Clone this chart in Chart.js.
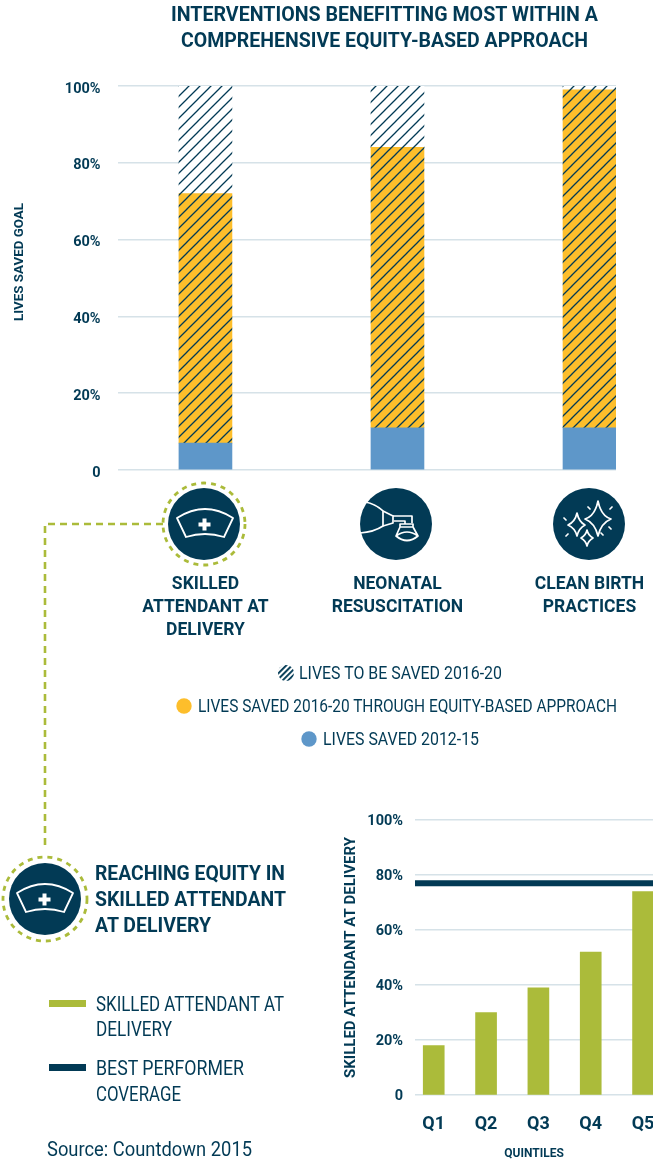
<!DOCTYPE html>
<html><head><meta charset="utf-8">
<script src="https://cdn.jsdelivr.net/npm/chart.js@4/dist/chart.umd.min.js"></script>
<style>
html,body{margin:0;padding:0;background:#fff;width:653px;height:1161px;overflow:hidden}
#stage{position:relative;width:653px;height:1161px;overflow:hidden}
canvas{position:absolute;display:block}
svg{position:absolute;left:0;top:0}
.t{position:absolute;white-space:nowrap;transform-origin:0 50%;color:#023a55;line-height:1;font-family:Roboto,sans-serif}
</style></head><body>
<div id="stage">
<canvas id="c1" width="653" height="640" style="left:0;top:0;width:653px;height:640px"></canvas>
<canvas id="c2" width="323" height="361" style="left:330px;top:800px;width:323px;height:361px"></canvas>
<svg width="653" height="1161" viewBox="0 0 653 1161">
<defs>
<pattern id="hl" width="4" height="4" patternUnits="userSpaceOnUse" patternTransform="rotate(45)"><rect width="4" height="4" fill="#fff"/><rect width="1.9" height="4" fill="#023a55"/></pattern>
<g id="cap" fill="none" stroke="#fff" stroke-width="1.8" stroke-linejoin="round">
<path d="M-27-6Q1-24 29-6L20 13Q1 7-18 13Z"/>
<path d="M-1.5-5.5h4v4h4v4h-4v4h-4v-4h-4v-4h4z" fill="#fff" stroke="none"/>
</g>
</defs>
<path d="M163 524H45V850" fill="none" stroke="#abbb3a" stroke-width="2.6" stroke-dasharray="7 5"/>
<circle cx="204" cy="524" r="36" fill="#023a55"/>
<circle cx="204" cy="524" r="41" fill="none" stroke="#abbb3a" stroke-width="2.8" stroke-dasharray="5 5"/>
<use href="#cap" x="204" y="524"/>
<circle cx="396" cy="524" r="36" fill="#023a55"/>
<g transform="translate(396 524)" fill="none" stroke="#fff" stroke-width="1.7" stroke-linejoin="round">
<path d="M-31-22Q-20-20-13-13V2Q-22 8-36 9"/>
<path d="M-13-13L-3-8V-1L-13 2"/>
<path d="M-3-8H16V-1M-2-3H9V0"/>
<path d="M4 0H17V3H4ZM4 3L0 12Q11 4 22 12L17 3M0 12Q11 21 22 12"/>
</g>
<circle cx="589" cy="524" r="36" fill="#023a55"/>
<g transform="translate(589 524)" fill="none" stroke="#fff" stroke-width="1.7" stroke-linejoin="round">
<path d="M9-23Q12-8 22-5Q12-1 9 12Q6-1-4-5Q6-8 9-23Z"/>
<path d="M-12-11Q-10-2-4 1Q-10 4-12 12Q-14 4-21 1Q-14-2-12-11Z"/>
<path d="M-2 6Q-1 11 4 14Q-1 17-2 22Q-3 17-8 14Q-3 11-2 6Z"/>
<path d="M-25-6l2 2M-1-17l2 2M21-15l2-2M20 3l2 2M-23 12l2-2M12 9l2 2" stroke-linecap="round"/>
</g>
<circle cx="45" cy="899" r="36" fill="#023a55"/>
<circle cx="45" cy="899" r="42" fill="none" stroke="#abbb3a" stroke-width="2.8" stroke-dasharray="5 5"/>
<use href="#cap" x="44" y="899"/>
<circle cx="286" cy="673" r="8" fill="url(#hl)"/>
<circle cx="184" cy="706" r="7.7" fill="#fdbe2b"/>
<circle cx="309" cy="739" r="7.7" fill="#5e97c9"/>
<rect x="49" y="1000" width="37" height="7" fill="#abbb3a"/>
<rect x="49" y="1064" width="37" height="7" fill="#023a55"/>
</svg>
</div>
<script>
// ---- data
const interventions = [['SKILLED','ATTENDANT AT','DELIVERY'],['NEONATAL','RESUSCITATION'],['CLEAN BIRTH','PRACTICES']];
const livesSaved2012 = [7, 11, 11];
const livesSavedEquity = [65, 73, 88];
const livesToBeSaved = [28, 16, 1];
const quintiles = ['Q1','Q2','Q3','Q4','Q5'];
const skilledAttendant = [18, 30, 39, 52, 74];
const bestPerformer = 77;
const yTicks = {0:'0',20:'20%',40:'40%',60:'60%',80:'80%',100:'100%'};

const NAVY='#023a55', GOLD='#fdbe2b', BLUE='#5e97c9', GREEN='#abbb3a', GRID='#d6e2e8';
const FAM="Roboto,sans-serif";

function hatch(bg){
  const s=11,c=document.createElement('canvas');c.width=s;c.height=s;
  const x=c.getContext('2d');
  if(bg){x.fillStyle=bg;x.fillRect(0,0,s,s);}
  x.strokeStyle=NAVY;x.lineWidth=1.3;x.beginPath();
  x.moveTo(-3,s+3);x.lineTo(s+3,-3);x.moveTo(-3,3);x.lineTo(3,-3);x.moveTo(s-3,s+3);x.lineTo(s+3,s-3);x.stroke();
  return document.createElement('canvas').getContext('2d').createPattern(c,'repeat');
}
const pts=(a)=>a.map((y,i)=>({x:i,y}));
const fixY=w=>s=>{s.width=w;};
const fixX=h=>s=>{s.height=h;s.paddingLeft=0;s.paddingRight=0;};
const indexTicks=a=>s=>{s.ticks=a.map((_,i)=>({value:i}));};

new Chart(document.getElementById('c1'),{
  type:'bar',
  data:{datasets:[
    {label:'LIVES SAVED 2012-15',data:pts(livesSaved2012),backgroundColor:BLUE,barThickness:53},
    {label:'LIVES SAVED 2016-20 THROUGH EQUITY-BASED APPROACH',data:pts(livesSavedEquity),backgroundColor:hatch(GOLD),barThickness:53},
    {label:'LIVES TO BE SAVED 2016-20',data:pts(livesToBeSaved),backgroundColor:hatch('#fff'),barThickness:53}
  ]},
  options:{
    responsive:false,animation:false,devicePixelRatio:1,
    layout:{padding:{top:86,right:37,left:0,bottom:0}},
    plugins:{legend:{display:false},title:{display:false},tooltip:{enabled:false}},
    scales:{
      x:{type:'linear',bounds:'data',offset:false,stacked:true,min:-0.458,max:2.138,afterFit:fixX(640-86-384),
        afterBuildTicks:indexTicks(interventions),
        grid:{display:false,offset:false},border:{display:false},
        ticks:{autoSkip:false,maxRotation:0,minRotation:0,padding:95,color:NAVY,
          font:{family:FAM,weight:'bold',size:17.5,lineHeight:1.31},
          callback:v=>interventions[v]||''}},
      y:{stacked:true,min:0,max:100,afterFit:fixY(117.5),
        grid:{color:GRID,lineWidth:1.6,drawTicks:false},border:{display:false},
        ticks:{stepSize:20,padding:17,color:NAVY,font:{family:FAM,weight:'bold',size:14.5,lineHeight:'6px'},callback:v=>['',yTicks[v]]}}
    }
  }
});

new Chart(document.getElementById('c2'),{
  type:'bar',
  data:{datasets:[
    {type:'line',label:'BEST PERFORMER COVERAGE',data:[{x:-0.358,y:bestPerformer},{x:4.19,y:bestPerformer}],borderColor:NAVY,borderWidth:6,pointRadius:0,order:0},
    {type:'bar',label:'SKILLED ATTENDANT AT DELIVERY',data:pts(skilledAttendant),backgroundColor:GREEN,barThickness:21,order:1}
  ]},
  options:{
    responsive:false,animation:false,devicePixelRatio:1,
    layout:{padding:{top:20,right:0,left:0,bottom:0}},
    plugins:{legend:{display:false},title:{display:false},tooltip:{enabled:false}},
    scales:{
      x:{type:'linear',bounds:'data',offset:false,min:-0.358,max:4.19,afterFit:fixX(66),
        afterBuildTicks:indexTicks(quintiles),
        grid:{display:false,offset:false},border:{display:false},
        title:{display:true,text:'QUINTILES',color:NAVY,font:{family:FAM,weight:'bold',size:12},padding:{top:0,bottom:0}},
        ticks:{autoSkip:false,maxRotation:0,minRotation:0,padding:11,color:NAVY,
          font:{family:FAM,weight:'bold',size:18},callback:v=>quintiles[v]||''}},
      y:{min:0,max:100,afterFit:fixY(85),
        grid:{color:GRID,lineWidth:1.4,drawTicks:false},border:{display:false},
        title:{display:true,text:'SKILLED ATTENDANT AT DELIVERY',color:NAVY,font:{family:FAM,weight:'bold',size:15},padding:{top:12,bottom:0}},
        ticks:{stepSize:20,padding:12,color:NAVY,font:{family:FAM,weight:'bold',size:14.5,lineHeight:'2px'},callback:v=>['',yTicks[v]]}}
    }
  }
});

// ---- page text, each fitted to the reference's width
const stage=document.getElementById('stage');
function T(text,x,cy,w,size,bold,rot){
  const e=document.createElement('div');e.className='t';e.textContent=text;
  e.style.fontSize=size+'px';e.style.fontWeight=bold?'700':'400';
  e.style.left=x+'px';e.style.top=(cy-size/2)+'px';
  stage.appendChild(e);
  const k=w/e.getBoundingClientRect().width;
  e.style.transform=(rot?'rotate(-90deg) ':'')+'scaleX('+k+')';
}
T('INTERVENTIONS BENEFITTING MOST WITHIN A',171,14.5,427,21,true);
T('COMPREHENSIVE EQUITY-BASED APPROACH',181,40.5,407,21,true);
T('LIVES TO BE SAVED 2016-20',299,673,203,18,false);
T('LIVES SAVED 2016-20 THROUGH EQUITY-BASED APPROACH',198,706,419,18,false);
T('LIVES SAVED 2012-15',323,739,156,18,false);
T('REACHING EQUITY IN',95,873.5,190,21,true);
T('SKILLED ATTENDANT',95,899.5,191,21,true);
T('AT DELIVERY',95,925,116,21,true);
T('SKILLED ATTENDANT AT',96,1004,188,20,false);
T('DELIVERY',96,1029,76,20,false);
T('BEST PERFORMER',96,1068,148,20,false);
T('COVERAGE',96,1094,85,20,false);
T('Source: Countdown 2015',47,1149,205,20,false);
T('LIVES SAVED GOAL',19,321,118,12,true,true);
</script>
</body></html>
